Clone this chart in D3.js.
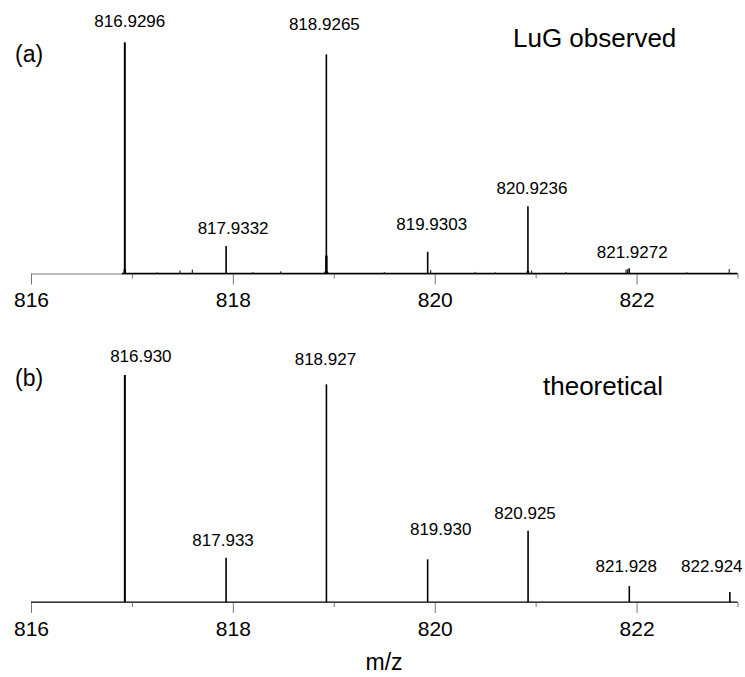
<!DOCTYPE html>
<html>
<head>
<meta charset="utf-8">
<script src="https://cdn.jsdelivr.net/npm/d3@7"></script>
<style>
  body { margin: 0; background: #fff; }
  text { font-family: "Liberation Sans", Arial, sans-serif; fill: #000; }
</style>
</head>
<body>
<div id="chart"></div>
<script>
// observed isotope peaks (m/z, relative intensity %)
var obsMz = [816.9296, 817.9332, 818.9265, 819.9303, 820.9236, 821.9272];
var obsInt = [100, 11.9, 94.8, 9.4, 29.1, 2.2];
var obsShoulder = [1.8, 0, 7.8, 0, 1.2, 0];

// small noise blips along the observed baseline
var noiseMz = [817.25, 817.476, 817.598, 818.2, 818.474, 819.5, 819.96, 820.4, 820.6, 820.96, 821.3, 821.896, 821.912, 822.5, 822.918];
var noiseInt = [0.5, 1.3, 1.7, 0.6, 0.9, 0.6, 1.5, 0.7, 0.5, 1.3, 0.6, 1.7, 1.9, 0.5, 1.9];

// theoretical pattern
var theoMz = [816.930, 817.933, 818.927, 819.930, 820.925, 821.928, 822.924];
var theoInt = [100, 19.5, 95.9, 18.8, 31.4, 7.0, 4.4];

var majorTicks = [816, 818, 820, 822];
var minorTicks = [817, 819, 821, 823];

var width = 745, height = 677;

var svg = d3.select("#chart").append("svg")
    .attr("width", width)
    .attr("height", height);

var x = d3.scaleLinear().domain([816, 823]).range([31, 737.5]);

// one panel per spectrum
function panel(opts) {
    var y = d3.scaleLinear().domain([0, 100]).range([opts.base, opts.top]);
    var g = svg.append("g");

    // axis: long labelled ticks and short unlabelled ones
    var major = g.append("g")
        .attr("transform", "translate(0," + opts.base + ")")
        .call(d3.axisBottom(x).tickValues(majorTicks).tickSize(11).tickSizeOuter(0).tickPadding(8).tickFormat(d3.format("d")));
    major.selectAll("text").style("font-size", "21px").attr("font-family", null);
    major.select(".domain").attr("stroke", "#777");
    major.selectAll(".tick line").attr("stroke", "#777");

    var minor = g.append("g")
        .attr("transform", "translate(0," + opts.base + ")")
        .call(d3.axisBottom(x).tickValues(minorTicks).tickSize(5).tickSizeOuter(0).tickFormat(""));
    minor.select(".domain").remove();
    minor.selectAll(".tick line").attr("stroke", "#777");

    // trace baseline
    g.append("line")
        .attr("x1", x(opts.traceStart)).attr("x2", x(823))
        .attr("y1", y(0)).attr("y2", y(0))
        .attr("stroke", "#000")
        .attr("stroke-width", opts.traceWidth);

    // noise sticks
    if (opts.noiseMz) {
        g.selectAll(".noise").data(opts.noiseMz).enter().append("line")
            .attr("x1", function(d) { return x(d); })
            .attr("x2", function(d) { return x(d); })
            .attr("y1", y(0))
            .attr("y2", function(d, i) { return y(opts.noiseInt[i]); })
            .attr("stroke", "#000")
            .attr("stroke-width", 1);
    }

    // peak shoulders (broader base of the profile peaks)
    if (opts.shoulder) {
        var area = d3.line().x(function(d) { return x(d[0]); }).y(function(d) { return y(d[1]); });
        opts.mz.forEach(function(m, i) {
            var s = opts.shoulder[i];
            if (!s) return;
            g.append("path")
                .attr("d", area([[m - 0.025, 0], [m - 0.012, s * 0.15], [m - 0.012, s], [m + 0.012, s], [m + 0.012, s * 0.15], [m + 0.025, 0]]))
                .attr("fill", "#000");
        });
    }

    // peak sticks
    g.selectAll(".peak").data(opts.mz).enter().append("line")
        .attr("x1", function(d) { return x(d); })
        .attr("x2", function(d) { return x(d); })
        .attr("y1", y(0))
        .attr("y2", function(d, i) { return y(opts.int[i]); })
        .attr("stroke", "#000")
        .attr("stroke-width", function(d, i) { return i === 0 ? 2 : 1.6; });

    // peak labels
    g.selectAll(".plabel").data(opts.mz).enter().append("text")
        .attr("x", function(d, i) { return x(d) + opts.labelDx[i]; })
        .attr("y", function(d, i) { return y(opts.int[i]) - opts.labelGap[i]; })
        .attr("text-anchor", "middle")
        .style("font-size", "17px")
        .text(function(d) { return d.toFixed(opts.digits); });

    g.append("text")
        .attr("x", 15).attr("y", opts.tagY)
        .style("font-size", "23px")
        .text(opts.tag);

    g.append("text")
        .attr("x", opts.titleX).attr("y", opts.titleY)
        .style("font-size", "26px")
        .text(opts.title);
}

panel({
    base: 273.5, top: 42.3,
    mz: obsMz, int: obsInt, shoulder: obsShoulder,
    noiseMz: noiseMz, noiseInt: noiseInt,
    traceStart: 816.9, traceWidth: 1.6,
    digits: 4,
    labelDx: [5, 7, -2, 4, 4, 3],
    labelGap: [15, 12, 24, 22, 12, 10],
    tag: "(a)", tagY: 62,
    title: "LuG observed", titleX: 513, titleY: 47
});

panel({
    base: 602, top: 375,
    mz: theoMz, int: theoInt,
    traceStart: 816, traceWidth: 1.2,
    digits: 3,
    labelDx: [16, -3, -1, 13, -3, -3, -18],
    labelGap: [13, 12, 19, 24, 12, 14, 20],
    tag: "(b)", tagY: 386,
    title: "theoretical", titleX: 543, titleY: 395
});

svg.append("text")
    .attr("x", 384).attr("y", 670)
    .attr("text-anchor", "middle")
    .style("font-size", "23px")
    .text("m/z");
</script>
</body>
</html>
